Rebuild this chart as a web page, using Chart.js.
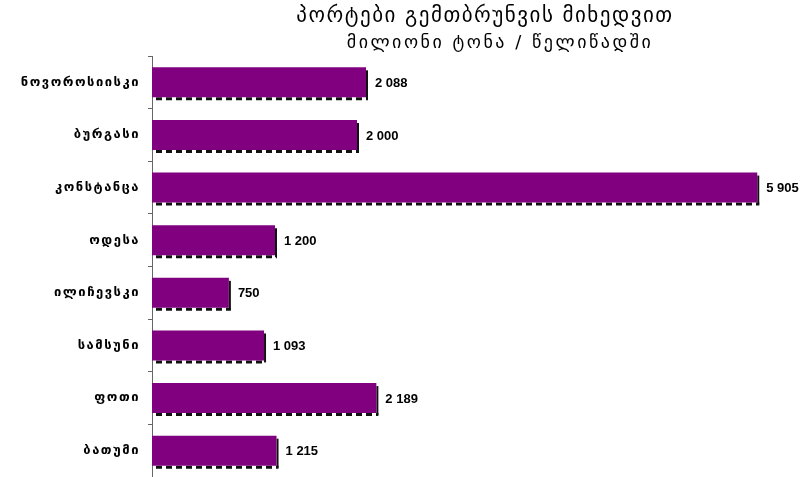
<!DOCTYPE html>
<html>
<head>
<meta charset="utf-8">
<script src="https://cdn.jsdelivr.net/npm/chart.js@4.4.1/dist/chart.umd.min.js"></script>
<style>
  html, body { margin: 0; padding: 0; background: #fff; }
  #wrap { position: relative; width: 809px; height: 477px; }
  #ports { position: absolute; left: 0; top: 0; }
  .ttl { position: absolute; transform: translateX(-50%); white-space: nowrap;
         font-family: "DejaVu Sans", sans-serif; color: #000; }
  #t1 { left: 485px; top: 3px; font-size: 21px; letter-spacing: 1.5px; }
  #t2 { left: 500px; top: 31px; font-size: 18px; letter-spacing: 2.5px; }
</style>
</head>
<body>
<div id="wrap">
  <canvas id="ports" width="809" height="477"></canvas>
  <div class="ttl" id="t1">პორტები გემთბრუნვის მიხედვით</div>
  <div class="ttl" id="t2">მილიონი ტონა / წელიწადში</div>
</div>
<script>
// ports and cargo turnover
var ports = ["ნოვოროსიისკი", "ბურგასი", "კონსტანცა", "ოდესა", "ილიჩევსკი", "სამსუნი", "ფოთი", "ბათუმი"];
var turnover = [2088, 2000, 5905, 1200, 750, 1093, 2189, 1215];
var xMax = 6000;

function fmt(v) {
    return String(v).replace(/\B(?=(\d{3})+(?!\d))/g, " ");
}

// a little extra spacing for the port names on the y axis
var labelSpacing = {
    id: "labelSpacing",
    beforeDraw: function (chart) { chart.ctx.letterSpacing = "1.5px"; },
    beforeDatasetsDraw: function (chart) { chart.ctx.letterSpacing = "0px"; }
};

// dark drop shadow on the right and bottom edge of each bar
var barShadow = {
    id: "barShadow",
    beforeDatasetsDraw: function (chart) {
        var ctx = chart.ctx;
        chart.getDatasetMeta(0).data.forEach(function (bar) {
            var top = bar.y - bar.height / 2, bottom = bar.y + bar.height / 2;
            ctx.save();
            ctx.strokeStyle = "#111";
            ctx.lineWidth = 2;
            ctx.beginPath();
            ctx.moveTo(bar.x + 1, top + 3);
            ctx.lineTo(bar.x + 1, bottom + 2);
            ctx.stroke();
            ctx.lineWidth = 3;
            ctx.setLineDash([6, 4]);
            ctx.beginPath();
            ctx.moveTo(bar.base + 4, bottom + 1.5);
            ctx.lineTo(bar.x + 2, bottom + 1.5);
            ctx.stroke();
            ctx.restore();
        });
    }
};

// value labels to the right of the bars
var valueLabels = {
    id: "valueLabels",
    afterDatasetsDraw: function (chart) {
        var ctx = chart.ctx;
        ctx.save();
        ctx.font = "bold 13px 'Liberation Sans', Arial, sans-serif";
        ctx.fillStyle = "#000";
        ctx.textBaseline = "middle";
        chart.getDatasetMeta(0).data.forEach(function (bar, i) {
            ctx.fillText(fmt(turnover[i]), bar.x + 9, bar.y + 1);
        });
        ctx.restore();
    }
};

var chart = new Chart(document.querySelector("#ports"), {
    type: "bar",
    data: {
        labels: ports,
        datasets: [{
            data: turnover,
            backgroundColor: "#800080",
            borderWidth: 0,
            barPercentage: 0.57,
            categoryPercentage: 1
        }]
    },
    options: {
        indexAxis: "y",
        responsive: false,
        animation: false,
        layout: { padding: { top: 56, right: 42, bottom: 0, left: 0 } },
        plugins: {
            legend: { display: false },
            tooltip: { enabled: false }
        },
        scales: {
            x: {
                display: false,
                min: 0,
                max: xMax
            },
            y: {
                afterFit: function (scale) {
                    scale.width = 152;
                    scale.paddingTop = 0;
                    scale.paddingBottom = 0;
                },
                border: { display: true, color: "#666", width: 1 },
                grid: {
                    display: true,
                    offset: true,
                    drawOnChartArea: false,
                    drawTicks: true,
                    tickLength: 4,
                    color: "#666"
                },
                ticks: {
                    color: "#000",
                    padding: 8,
                    font: { family: "'DejaVu Sans', sans-serif", size: 13, weight: "bold" }
                }
            }
        }
    },
    plugins: [labelSpacing, barShadow, valueLabels]
});
</script>
</body>
</html>
